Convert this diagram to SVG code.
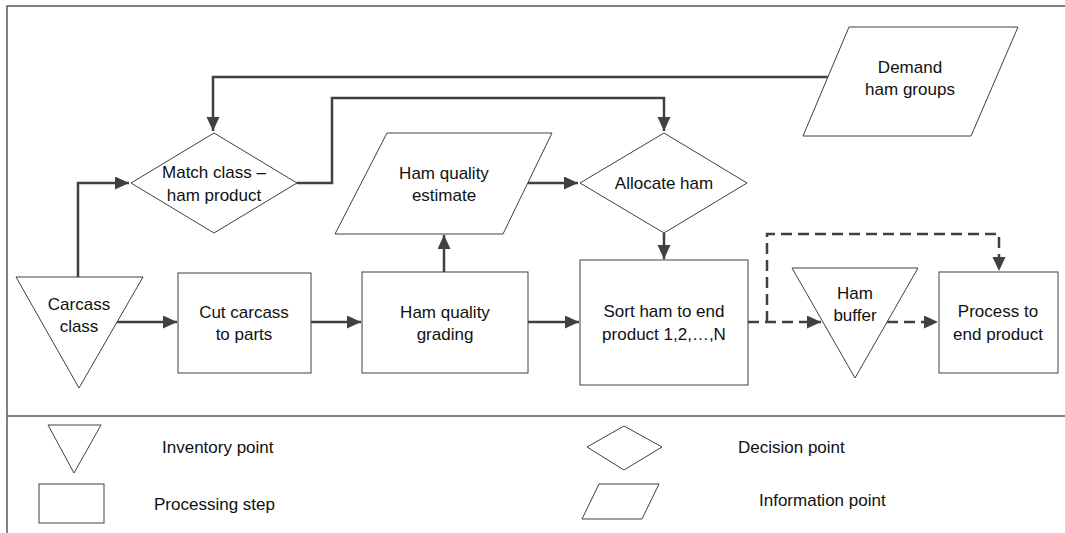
<svg xmlns="http://www.w3.org/2000/svg" width="1065" height="533" viewBox="0 0 1065 533">
<style>
.shape{fill:#ffffff;stroke:#404040;stroke-width:1}
.frame{fill:none;stroke:#595959;stroke-width:1.5}
.conn{fill:none;stroke:#404040;stroke-width:2.5}
.dash{stroke-dasharray:11,6}
text{font-family:"Liberation Sans",Arial,sans-serif;font-size:17px;fill:#111111}
.c{text-anchor:middle}
</style>
<defs>
<marker id="arr" markerUnits="userSpaceOnUse" markerWidth="15" markerHeight="14" refX="14" refY="6.5" orient="auto">
<path d="M0,0 L14,6.5 L0,13 z" fill="#404040"/>
</marker>
</defs>
<rect width="1065" height="533" fill="#ffffff"/>
<g id="frame">
<path class="frame" d="M7,533 V6 H1065"/>
<path class="frame" d="M7,416 H1065"/>
</g>
<g id="connectors">
<path class="conn" d="M78,277 V183 H129" marker-end="url(#arr)"/>
<path class="conn" d="M828,77 H213 V131" marker-end="url(#arr)"/>
<path class="conn" d="M297,183 H332 V98 H664 V131" marker-end="url(#arr)"/>
<path class="conn" d="M528,183 H578" marker-end="url(#arr)"/>
<path class="conn" d="M664,233 V259" marker-end="url(#arr)"/>
<path class="conn" d="M117,322 H177" marker-end="url(#arr)"/>
<path class="conn" d="M311,322 H361" marker-end="url(#arr)"/>
<path class="conn" d="M444,272 V235" marker-end="url(#arr)"/>
<path class="conn" d="M528,322 H579" marker-end="url(#arr)"/>
<path class="conn dash" d="M748,322 H821" marker-end="url(#arr)"/>
<path class="conn dash" d="M767,322 V234 H999 V271" marker-end="url(#arr)"/>
<path class="conn dash" d="M887,322 H938" marker-end="url(#arr)"/>
</g>
<g id="carcass-class">
<polygon class="shape" points="16,277 143,277 79,388"/>
<text class="c" x="79" y="310">Carcass</text>
<text class="c" x="79" y="332">class</text>
</g>
<g id="cut-carcass">
<rect class="shape" x="178" y="273" width="133" height="100"/>
<text class="c" x="244" y="318">Cut carcass</text>
<text class="c" x="244" y="340">to parts</text>
</g>
<g id="ham-quality-grading">
<rect class="shape" x="362" y="272" width="166" height="101"/>
<text class="c" x="445" y="318">Ham quality</text>
<text class="c" x="445" y="340">grading</text>
</g>
<g id="sort-ham">
<rect class="shape" x="580" y="260" width="168" height="125"/>
<text class="c" x="664" y="317">Sort ham to end</text>
<text class="c" x="664" y="340">product 1,2,…,N</text>
</g>
<g id="ham-buffer">
<polygon class="shape" points="792,268 918,268 855,378"/>
<text class="c" x="855" y="299">Ham</text>
<text class="c" x="855" y="321">buffer</text>
</g>
<g id="process-end-product">
<rect class="shape" x="939" y="272" width="119" height="101"/>
<text class="c" x="998" y="317">Process to</text>
<text class="c" x="998" y="340">end product</text>
</g>
<g id="match-class">
<polygon class="shape" points="131,183 214,133 297,183 214,233"/>
<text class="c" x="214" y="178">Match class –</text>
<text class="c" x="214" y="201">ham product</text>
</g>
<g id="ham-quality-estimate">
<polygon class="shape" points="387,133 552,133 503,234 335,234"/>
<text class="c" x="444" y="179">Ham quality</text>
<text class="c" x="444" y="201">estimate</text>
</g>
<g id="allocate-ham">
<polygon class="shape" points="580,183 664,133 747,183 664,233"/>
<text class="c" x="664" y="189">Allocate ham</text>
</g>
<g id="demand-ham-groups">
<polygon class="shape" points="849,27 1018,27 971,136 803,136"/>
<text class="c" x="910" y="73">Demand</text>
<text class="c" x="910" y="95">ham groups</text>
</g>
<g id="legend">
<polygon class="shape" points="48,425 101,425 74,473"/>
<text x="162" y="453">Inventory point</text>
<rect class="shape" x="39" y="484" width="65" height="39"/>
<text x="154" y="510">Processing step</text>
<polygon class="shape" points="587,447 624,426 662,447 624,470"/>
<text x="738" y="453">Decision point</text>
<polygon class="shape" points="599,484 659,484 642,519 582,519"/>
<text x="759" y="506">Information point</text>
</g>
</svg>
